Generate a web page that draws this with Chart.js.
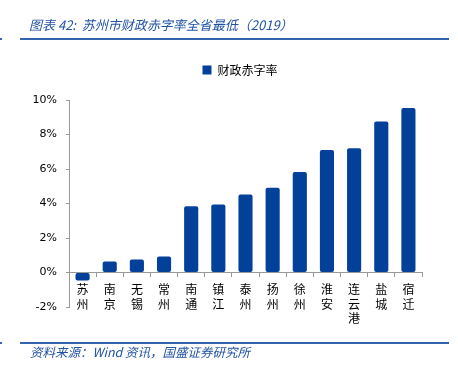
<!DOCTYPE html>
<html><head><meta charset="utf-8">
<script src="https://cdn.jsdelivr.net/npm/chart.js@4.4.0/dist/chart.umd.min.js"></script>
<style>html,body{margin:0;padding:0;background:#fff}#wrap{width:458px;height:385px;position:relative}</style>
</head><body><div id="wrap"><canvas id="c" width="458" height="385"></canvas></div>
<script>
const categories = ['苏州','南京','无锡','常州','南通','镇江','泰州','扬州','徐州','淮安','连云港','盐城','宿迁'];
const deficitRate = [-0.47, 0.64, 0.76, 0.93, 3.84, 3.94, 4.52, 4.92, 5.83, 7.10, 7.20, 8.75, 9.53];
const seriesName = '财政赤字率';
const yMin = -2, yMax = 10, yStep = 2;
const titleText = '图表 42:  苏州市财政赤字率全省最低（2019）';
const sourceText = '资料来源：Wind 资讯，国盛证券研究所';

const CJK = '"Noto Sans CJK SC", "DejaVu Sans", sans-serif';
const blueLine = '#3464AE';
const textBlue = '#2052A3';

const decor = {
  id: 'decor',
  afterLayout(chart) {
    const lg = chart.legend;
    if (lg) { lg.left += 29; lg.right += 29; }
  },
  afterDraw(chart) {
    const ctx = chart.ctx;
    ctx.save();
    ctx.fillStyle = blueLine;
    ctx.fillRect(20, 38, 429, 2);
    ctx.fillRect(20, 342, 429, 2);
    ctx.fillRect(0, 38, 2, 2);
    ctx.fillRect(0, 342, 2, 2);
    ctx.fillStyle = textBlue;
    ctx.textBaseline = 'middle';
    ctx.textAlign = 'left';
    ctx.font = 'italic 13px ' + CJK;
    ctx.fillText(titleText, 29, 25);
    ctx.font = 'italic 12.5px ' + CJK;
    ctx.fillText(sourceText, 30, 352);
    ctx.restore();
  }
};

new Chart(document.getElementById('c'), {
  type: 'bar',
  data: {
    labels: categories.map(s => s.split('')),
    datasets: [{
      label: seriesName,
      data: deficitRate,
      backgroundColor: '#02409A',
      borderRadius: 2,
      borderSkipped: false,
      barPercentage: 0.52,
      categoryPercentage: 1.0
    }]
  },
  options: {
    responsive: false,
    animation: false,
    devicePixelRatio: 1,
    layout: { padding: { left: 0, right: 36, top: 54, bottom: 78 } },
    plugins: {
      legend: {
        display: true,
        position: 'top',
        labels: {
          boxWidth: 9, boxHeight: 9, padding: 10,
          color: '#000', font: { family: CJK, size: 12 }
        }
      },
      title: { display: false },
      subtitle: {
        display: true, text: '', weight: 500,
        font: { size: 1, lineHeight: 1 },
        padding: { top: 0, bottom: 13 }
      },
      tooltip: { enabled: false }
    },
    scales: {
      x: {
        position: { y: 0 },
        grid: { offset: true, drawOnChartArea: false, drawTicks: true, tickLength: 4, color: '#999' },
        border: { color: '#999', width: 1 },
        ticks: { color: '#000', font: { family: CJK, size: 12, lineHeight: 1.2 }, padding: 6, maxRotation: 0, autoSkip: false }
      },
      y: {
        min: yMin, max: yMax,
        afterFit(scale) { scale.width = 69; },
        grid: { drawOnChartArea: false, drawTicks: true, tickLength: 3, color: '#999' },
        border: { color: '#999', width: 1 },
        ticks: {
          stepSize: yStep,
          color: '#000', padding: 9,
          font: { family: '"DejaVu Sans", sans-serif', size: 11 },
          callback: v => v + '%'
        }
      }
    }
  },
  plugins: [decor]
});
</script></body></html>
